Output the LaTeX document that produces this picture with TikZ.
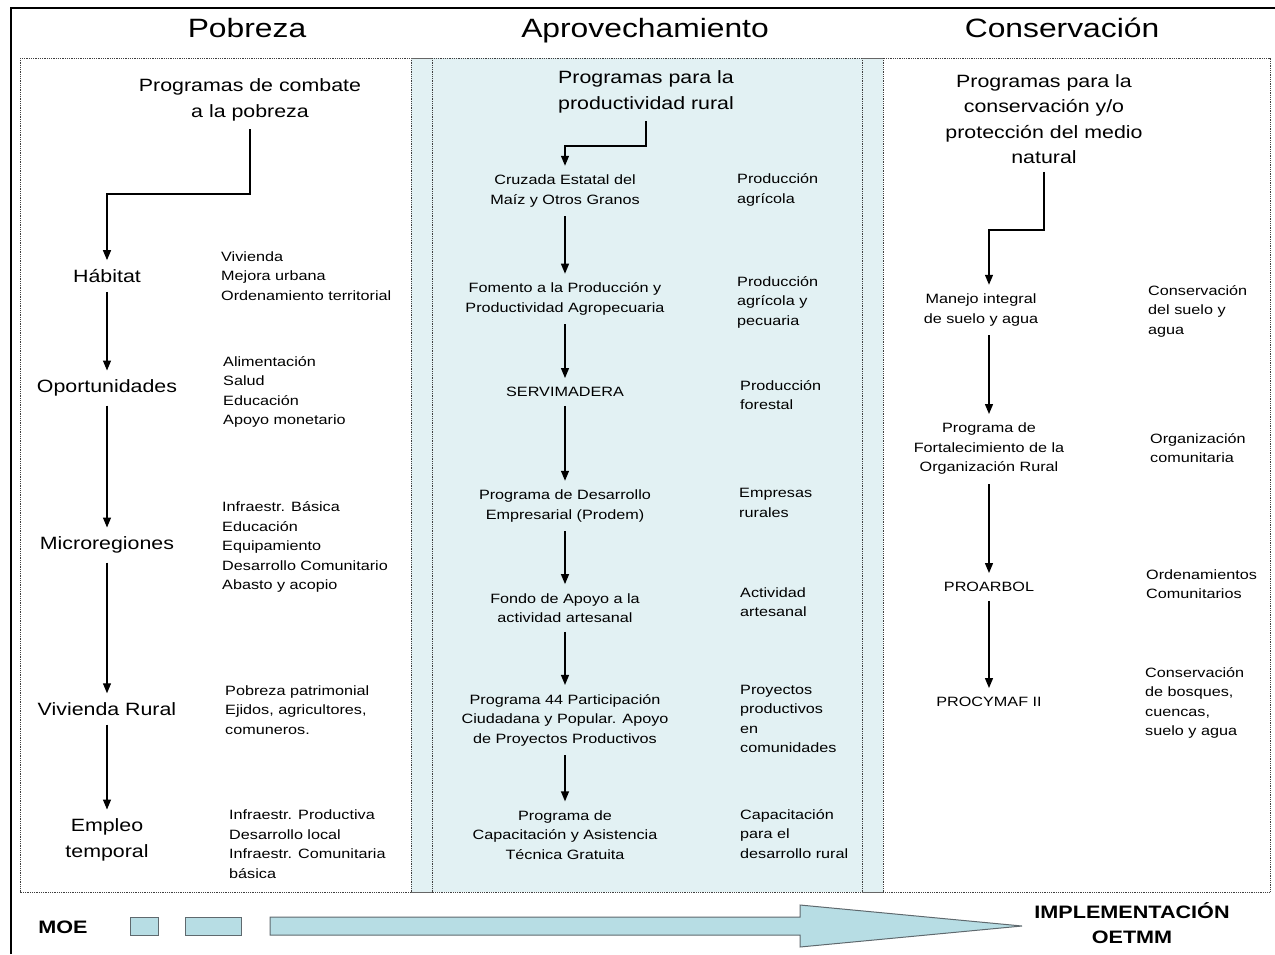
\documentclass[tikz,border=0pt]{standalone}
\usepackage{fontspec}
\setmainfont{Liberation Sans}[FakeStretch=1.2]
\usetikzlibrary{arrows.meta}

\definecolor{bandcyan}{RGB}{226,241,243}
\definecolor{moeblue}{RGB}{183,221,228}
\definecolor{moeedge}{RGB}{95,105,110}

\begin{document}
\begin{tikzpicture}[x=1pt,y=-1pt,>={Triangle[length=10pt,width=8pt]}]
	\tikzstyle{colhead} = [font=\fontsize{26.5}{30}\selectfont, inner sep=0pt, anchor=base]
	\tikzstyle{subhead} = [font=\fontsize{17.8}{25.5}\selectfont, align=center, inner xsep=2pt, inner ysep=8pt]
	\tikzstyle{stage} = [font=\fontsize{17.8}{26}\selectfont, align=center, inner xsep=2pt, inner ysep=9pt]
	\tikzstyle{progname} = [font=\fontsize{13.5}{19.5}\selectfont, align=center, inner xsep=2pt, inner ysep=9pt]
	\tikzstyle{detail} = [font=\fontsize{13.5}{19.5}\selectfont, align=left, anchor=west, inner sep=0pt]
	\tikzstyle{dotline} = [densely dotted, line width=0.8pt, black!75]
	\tikzstyle{link} = [->, line width=1.3pt]
	\tikzstyle{moebox} = [draw=moeedge, fill=moeblue, line width=1pt, inner sep=0pt, minimum height=18pt]
	\tikzstyle{moetext} = [font=\fontsize{18}{25}\selectfont\bfseries, align=center, inner sep=0pt]

	\useasboundingbox (0,0) rectangle (1275,954);

	% frame and columns
	\fill[bandcyan] (411,58) rectangle (883,892);
	\draw[dotline] (20,58) rectangle (1270,892);
	\draw[dotline] (411,58) -- (411,892);
	\draw[dotline] (432,58) -- (432,892);
	\draw[dotline] (862,58) -- (862,892);
	\draw[dotline] (883,58) -- (883,892);
	\draw[black!60, line width=0.8pt] (411,58) -- (432,58) (862,58) -- (883,58) (411,892) -- (432,892) (862,892) -- (883,892);
	\draw[line width=2pt] (11,954) -- (11,8) -- (1275,8);

	\node[colhead] (HeadPob)  at (247,37)  {Pobreza};
	\node[colhead] (HeadApro) at (645,37)  {Aprovechamiento};
	\node[colhead] (HeadCons) at (1062,37) {Conservación};

	% Pobreza
	\node[subhead] (Combate)   at (250,100) {Programas de combate\\a la pobreza};
	\node[stage]   (Habitat)   at (107,276) {Hábitat};
	\node[stage]   (Oport)     at (107,388) {Oportunidades};
	\node[stage]   (Micro)     at (107,545) {Microregiones};
	\node[stage]   (ViviendaR) at (107,709) {Vivienda Rural};
	\node[stage]   (Empleo)    at (107,840) {Empleo\\temporal};
	\node[detail]  (DetHab)    at (221,276) {Vivienda\\Mejora urbana\\Ordenamiento territorial};
	\node[detail]  (DetOport)  at (223,392) {Alimentación\\Salud\\Educación\\Apoyo monetario};
	\node[detail]  (DetMicro)  at (222,547) {Infraestr. Básica\\Educación\\Equipamiento\\Desarrollo Comunitario\\Abasto y acopio};
	\node[detail]  (DetViv)    at (225,710) {Pobreza patrimonial\\Ejidos, agricultores,\\comuneros.};
	\node[detail]  (DetEmpleo) at (229,844) {Infraestr. Productiva\\Desarrollo local\\Infraestr. Comunitaria\\básica};
	\coordinate (CombateTurn) at (250,194);
	\draw[link] (Combate.south) -- (CombateTurn) -| (Habitat.north);
	\draw[link] (Habitat.south) -- (Oport.north);
	\draw[link] (Oport.south) -- (Micro.north);
	\draw[link] (Micro.south) -- (ViviendaR.north);
	\draw[link] (ViviendaR.south) -- (Empleo.north);

	% Aprovechamiento
	\node[subhead]  (Productiva) at (646,92)  {Programas para la\\productividad rural};
	\node[progname] (Cruzada)    at (565,191) {Cruzada Estatal del\\Maíz y Otros Granos};
	\node[progname] (Fomento)    at (565,299) {Fomento a la Producción y\\Productividad Agropecuaria};
	\node[progname] (Servi)      at (565,392) {SERVIMADERA};
	\node[progname] (Prodem)     at (565,506) {Programa de Desarrollo\\Empresarial (Prodem)};
	\node[progname] (Fondo)      at (565,608) {Fondo de Apoyo a la\\actividad artesanal};
	\node[progname] (ProgCuatro) at (565,720) {Programa 44 Participación\\Ciudadana y Popular. Apoyo\\de Proyectos Productivos};
	\node[progname] (Capacita)   at (565,835) {Programa de\\Capacitación y Asistencia\\Técnica Gratuita};
	\node[detail] (ProdAgr)    at (737,190) {Producción\\agrícola};
	\node[detail] (ProdAgrPec) at (737,302) {Producción\\agrícola y\\pecuaria};
	\node[detail] (ProdFor)    at (740,395) {Producción\\forestal};
	\node[detail] (Empresas)   at (739,503) {Empresas\\rurales};
	\node[detail] (Artesanal)  at (740,602) {Actividad\\artesanal};
	\node[detail] (Proyectos)  at (740,719) {Proyectos\\productivos\\en\\comunidades};
	\node[detail] (CapRural)   at (740,834) {Capacitación\\para el\\desarrollo rural};
	\coordinate (ProdTurn) at (646,146);
	\draw[link] (Productiva.south) -- (ProdTurn) -| (Cruzada.north);
	\draw[link] (Cruzada.south) -- (Fomento.north);
	\draw[link] (Fomento.south) -- (Servi.north);
	\draw[link] (Servi.south) -- (Prodem.north);
	\draw[link] (Prodem.south) -- (Fondo.north);
	\draw[link] (Fondo.south) -- (ProgCuatro.north);
	\draw[link] (ProgCuatro.south) -- (Capacita.north);

	% Conservacion
	\node[subhead]  (Natural)  at (1044,119) {Programas para la\\conservación y/o\\protección del medio\\natural};
	\node[progname] (Manejo)   at (981,310)  {Manejo integral\\de suelo y agua};
	\node[progname] (Fortal)   at (989,449)  {Programa de\\Fortalecimiento de la\\Organización Rural};
	\node[progname] (Proarbol) at (989,587)  {PROARBOL};
	\node[progname] (Procymaf) at (989,702)  {PROCYMAF II};
	\node[detail] (ConsSuelo) at (1148,311) {Conservación\\del suelo y\\agua};
	\node[detail] (OrgCom)    at (1150,448) {Organización\\comunitaria};
	\node[detail] (OrdCom)    at (1146,584) {Ordenamientos\\Comunitarios};
	\node[detail] (ConsBosq)  at (1145,703) {Conservación\\de bosques,\\cuencas,\\suelo y agua};
	\coordinate (NatTurn) at (1044,230);
	\draw[link] (Natural.south) -- (NatTurn) -| (Manejo.north -| Fortal.north);
	\draw[link] (Manejo.south -| Fortal.north) -- (Fortal.north);
	\draw[link] (Fortal.south) -- (Proarbol.north);
	\draw[link] (Proarbol.south) -- (Procymaf.north);

	% MOE
	\node[moetext] (Moe) at (63,927) {MOE};
	\node[moebox, minimum width=28pt] (BoxOne) at (144,926) {};
	\node[moebox, minimum width=56pt] (BoxTwo) at (213,926) {};
	\draw[draw=moeedge, fill=moeblue, line width=1pt] (270,917) -- (800,917) -- (800,905) -- (1022,926) -- (800,947) -- (800,935) -- (270,935) -- cycle;
	\node[moetext] (Implement) at (1132,923) {IMPLEMENTACIÓN\\OETMM};
\end{tikzpicture}
\end{document}
